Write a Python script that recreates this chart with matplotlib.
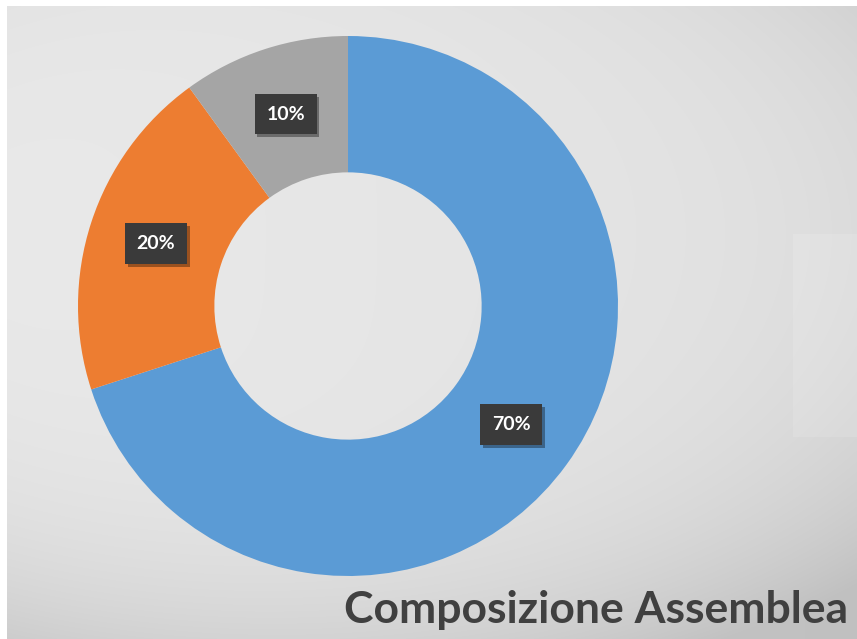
import matplotlib
matplotlib.use("Agg")
import matplotlib.pyplot as plt
import matplotlib.patheffects as pe
import numpy as np
from matplotlib.patches import Rectangle

# ---- data ----
categories = ["A", "B", "C"]
values = [70, 20, 10]
labels = ["70%", "20%", "10%"]
colors = ["#5B9BD5", "#ED7D31", "#A5A5A5"]
title = "Composizione Assemblea"

W, H = 857, 639
fig = plt.figure(figsize=(W / 100, H / 100), dpi=100)
fig.patch.set_facecolor("white")

# ---- background gradient (panel with small white border at top/left) ----
bg = fig.add_axes([7 / W, 0, 1 - 7 / W, 1 - 6 / H])
bg.set_axis_off()
yy, xx = np.mgrid[0:H, 0:W]
d = np.sqrt(((xx - 330) / 900.0) ** 2 + ((yy - 230) / 520.0) ** 2)
val = 0.915 - np.clip(0.2 * d ** 4, 0, 0.13) - 0.03 * (xx / W)
img = np.dstack([val, val, val])
bg.imshow(img, extent=[0, W, H, 0], aspect="auto", interpolation="bilinear")
bg.set_xlim(0, W)
bg.set_ylim(H, 0)
# faint lighter panel on the right
bg.add_patch(Rectangle((792, 230), 70, 205, facecolor="white", alpha=0.12, edgecolor="none"))

# ---- donut ----
cx, cy, R = 348, 306, 270
ax = fig.add_axes([(cx - R) / W, (H - cy - R) / H, 2 * R / W, 2 * R / H])
ax.set_axis_off()
ax.patch.set_alpha(0)

wedges, _ = ax.pie(values, colors=colors, startangle=90, counterclock=False,
                   radius=1.0, wedgeprops=dict(width=0.505, edgecolor="none"))
for w in wedges:
    w.set_zorder(2)
    w.set_clip_on(False)

# labels at ring middle
mid_r = 1.0 - 0.505 / 2
start = 90.0
total = sum(values)
for v, lab in zip(values, labels):
    span = 360.0 * v / total
    ang = np.deg2rad(start - span / 2)
    start -= span
    x, y = mid_r * np.cos(ang), mid_r * np.sin(ang)
    t = ax.text(x, y, lab, ha="center", va="center", fontsize=14, fontweight="bold",
                family="Lato", color="white", zorder=4,
                bbox=dict(boxstyle="square,pad=0.6", facecolor="#3a3a3a", edgecolor="none"))
    t.get_bbox_patch().set_path_effects([
        pe.SimplePatchShadow(offset=(2, -2), shadow_rgbFace="black", alpha=0.35),
        pe.Normal()])

ax.set_xlim(-1, 1)
ax.set_ylim(-1, 1)
ax.set_aspect("equal")

# ---- title ----
fig.text(848 / W, 1 - 610 / H, title, ha="right", va="center", fontsize=32,
         fontweight="bold", family="Lato", color="#404040")

fig.savefig("out.png", dpi=100, facecolor=fig.get_facecolor())
